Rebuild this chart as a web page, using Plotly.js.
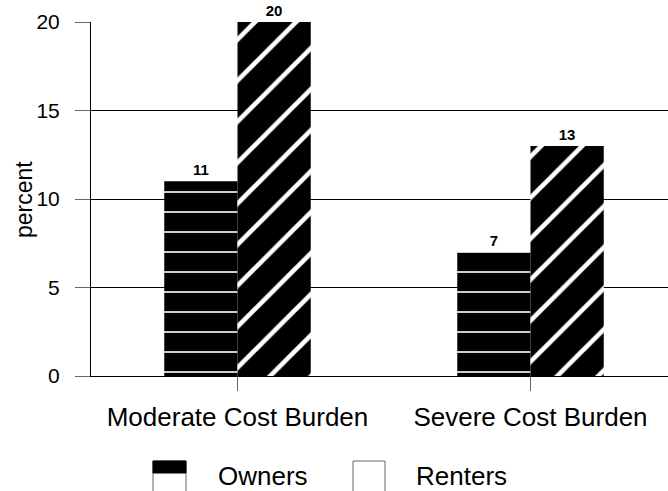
<!DOCTYPE html>
<html>
<head>
<meta charset="utf-8">
<script src="https://cdn.plot.ly/plotly-3.0.1.min.js"></script>
<style>html,body{margin:0;padding:0;background:#fff;}#chart{width:668px;height:491px;}</style>
</head>
<body>
<div id="chart"></div>
<script>
const categories = ["Moderate Cost Burden", "Severe Cost Burden"];
const owners = [11, 7];
const renters = [20, 13];
const seriesNames = ["Owners", "Renters"];
const yTicks = [0, 5, 10, 15, 20];
const yTitle = "percent";

const W = 668, H = 491;
const M = {l: 91, r: 0, t: 22, b: 115};
const plotW = W - M.l - M.r, plotH = H - M.t - M.b;
const px = x => (x - M.l) / plotW;
const py = y => (H - M.b - y) / plotH;
const FONT = "Liberation Sans, Arial, sans-serif";

const traces = [
  {
    type: "bar", name: seriesNames[0], x: categories, y: owners,
    text: owners.map(String), textposition: "outside", cliponaxis: false,
    textfont: {family: FONT, size: 15, color: "#000", weight: "bold"},
    marker: {color: "#000", line: {width: 0},
      pattern: {shape: "-", fgcolor: "#fff", fgopacity: 1, bgcolor: "#000", size: 20, solidity: 0.08, fillmode: "overlay"}},
    showlegend: false
  },
  {
    type: "bar", name: seriesNames[1], x: categories, y: renters,
    text: renters.map(String), textposition: "outside", cliponaxis: false,
    textfont: {family: FONT, size: 15, color: "#000", weight: "bold"},
    marker: {color: "#000", line: {width: 0},
      pattern: {shape: "/", fgcolor: "#fff", fgopacity: 1, bgcolor: "#000", size: 29, solidity: 0.16, fillmode: "overlay"}},
    showlegend: false
  }
];

const layout = {
  width: W, height: H,
  margin: M,
  paper_bgcolor: "#fff", plot_bgcolor: "#fff",
  font: {family: FONT, color: "#000"},
  barmode: "group", bargap: 0.5, bargroupgap: 0,
  showlegend: false,
  xaxis: {
    type: "category", range: [-0.5, -0.5 + plotW / 293],
    showline: true, linecolor: "#000", linewidth: 1,
    ticks: "outside", ticklen: 14, tickcolor: "#666", tickwidth: 1,
    ticklabelstandoff: 4,
    tickfont: {family: FONT, size: 26, color: "#000"},
    showgrid: false, zeroline: false, fixedrange: true
  },
  yaxis: {
    range: [0, 20], tickvals: yTicks, ticktext: yTicks.map(String),
    showline: true, linecolor: "#000", linewidth: 1,
    ticks: "outside", ticklen: 15, tickcolor: "#666", tickwidth: 1,
    ticklabelstandoff: 11,
    tickfont: {family: FONT, size: 21, color: "#000"},
    showgrid: true, gridcolor: "#000", gridwidth: 1, zeroline: false,
    fixedrange: true
  },
  shapes: [
    {type: "rect", xref: "paper", yref: "paper", x0: px(153), x1: px(186), y0: py(461), y1: py(500),
      line: {color: "#666", width: 1}, fillcolor: "#fff"},
    {type: "rect", xref: "paper", yref: "paper", x0: px(153), x1: px(186), y0: py(461), y1: py(473),
      line: {color: "#000", width: 1}, fillcolor: "#000"},
    {type: "rect", xref: "paper", yref: "paper", x0: px(353), x1: px(385), y0: py(461), y1: py(500),
      line: {color: "#666", width: 1}, fillcolor: "#fff"}
  ],
  annotations: [
    {xref: "paper", yref: "paper", x: px(24), y: py(200), xanchor: "center", yanchor: "middle",
      textangle: -90, text: yTitle, showarrow: false, font: {family: FONT, size: 23, color: "#000"}},
    {xref: "paper", yref: "paper", x: px(216), y: py(476), xanchor: "left", yanchor: "middle",
      text: seriesNames[0], showarrow: false, font: {family: FONT, size: 26, color: "#000"}},
    {xref: "paper", yref: "paper", x: px(414), y: py(476), xanchor: "left", yanchor: "middle",
      text: seriesNames[1], showarrow: false, font: {family: FONT, size: 26, color: "#000"}}
  ]
};

Plotly.newPlot("chart", traces, layout, {displayModeBar: false, staticPlot: true});
</script>
</body>
</html>
